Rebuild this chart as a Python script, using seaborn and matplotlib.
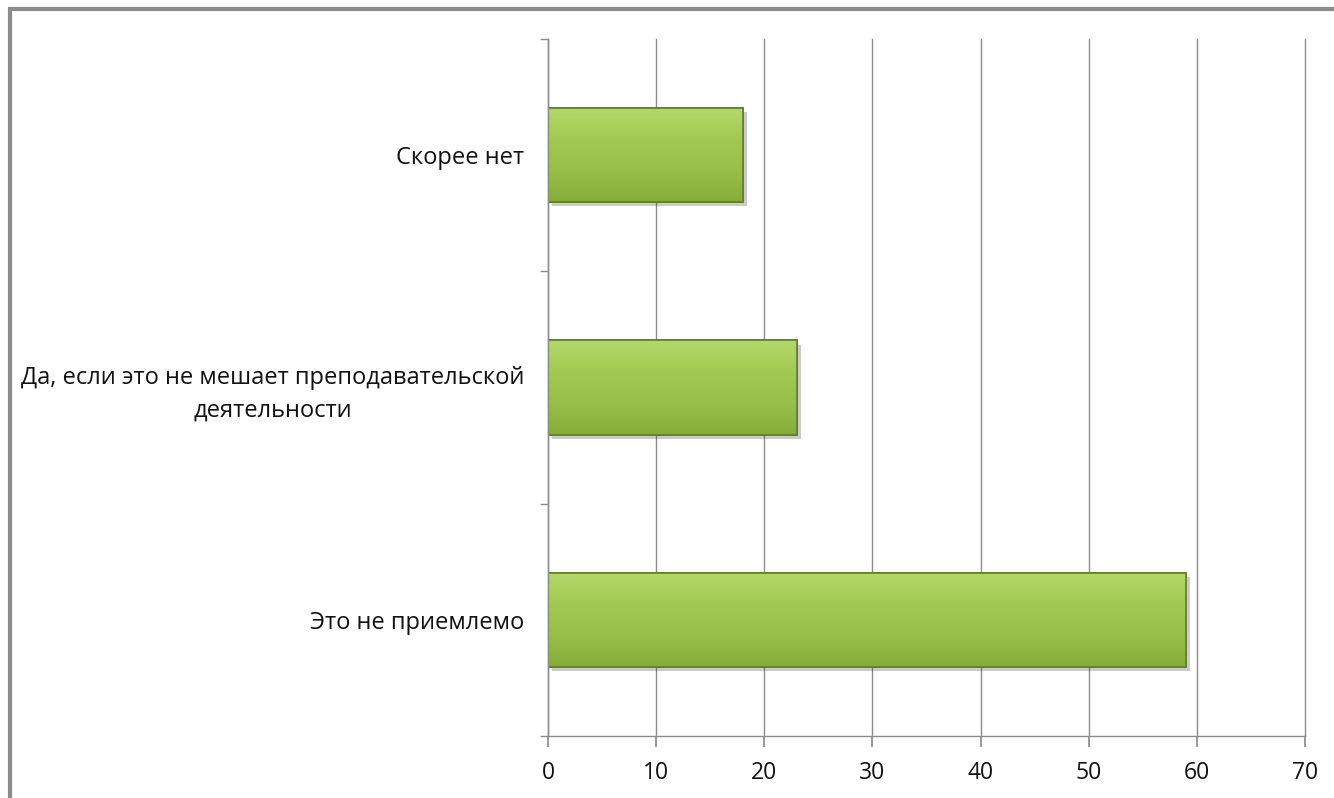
import numpy as np
import pandas as pd
import matplotlib
matplotlib.use("Agg")
import matplotlib.pyplot as plt
import matplotlib.patheffects as pe
from matplotlib.colors import LinearSegmentedColormap
from matplotlib.patches import Rectangle
import seaborn as sns

# Данные
categories = [
    "Скорее нет",
    "Да, если это не мешает преподавательской\nдеятельности",
    "Это не приемлемо",
]
values = [18, 23, 59]
x_ticks = [0, 10, 20, 30, 40, 50, 60, 70]

df = pd.DataFrame({"cat": categories, "val": values})

sns.set_theme(style="white")
plt.rcParams["font.family"] = ["Open Sans", "DejaVu Sans"]

fig = plt.figure(figsize=(13.34, 7.98), dpi=100)
ax = fig.add_axes([548 / 1334, 1 - 736 / 798, (1305 - 548) / 1334, (736 - 39) / 798])

sns.barplot(data=df, x="val", y="cat", orient="h", color="#9CC44C",
            width=0.405, edgecolor="#5F8025", linewidth=1.2, ax=ax)

# градиент внутри столбцов
grad = LinearSegmentedColormap.from_list("g", ["#B4D86A", "#A2CA52", "#98BF48", "#86AD38"])
for bar in ax.patches:
    x0, y0 = bar.get_x(), bar.get_y()
    w, h = bar.get_width(), bar.get_height()
    bar.set_path_effects([pe.SimplePatchShadow(offset=(3, -3), alpha=0.25), pe.Normal()])
    im = ax.imshow(np.linspace(0, 1, 100).reshape(-1, 1), cmap=grad, aspect="auto",
                   extent=(x0, x0 + w, y0 + h, y0), zorder=bar.get_zorder() + 0.1)
    im.set_clip_path(bar)
    edge = Rectangle((x0, y0), w, h, fill=False, edgecolor="#5F8025", linewidth=1.2,
                     zorder=bar.get_zorder() + 0.2)
    ax.add_patch(edge)

ax.set_xlim(0, 70)
ax.set_ylim(2.5, -0.5)
ax.set_xticks(x_ticks)
ax.set_yticks([-0.5, 0.5, 1.5, 2.5], minor=True)
ax.set_xlabel("")
ax.set_ylabel("")

ax.grid(axis="x", color="#8C8C8C", linewidth=1)
for gl in ax.get_xgridlines():
    gl.set_clip_on(False)
ax.set_axisbelow(True)
for s in ["top", "right"]:
    ax.spines[s].set_visible(False)
for s in ["left", "bottom"]:
    ax.spines[s].set_color("#8C8C8C")
    ax.spines[s].set_linewidth(1)

ax.tick_params(axis="x", which="major", bottom=True, length=8, color="#8C8C8C",
               labelsize=16.5, pad=10, labelcolor="#111111")
ax.tick_params(axis="y", which="major", left=False, labelsize=17, pad=11, labelcolor="#111111")
ax.tick_params(axis="y", which="minor", left=True, length=6, color="#8C8C8C")
for lab in ax.get_yticklabels():
    lab.set_multialignment("center")
    lab.set_linespacing(1.45)

# рамка вокруг диаграммы
fig.patches.append(Rectangle((10 / 1334, -0.1), 1.2, 1 - 9 / 798 + 0.1,
                             transform=fig.transFigure, fill=False,
                             edgecolor="#8C8C8C", linewidth=3))

plt.savefig("out.png", dpi=100)
plt.close()
